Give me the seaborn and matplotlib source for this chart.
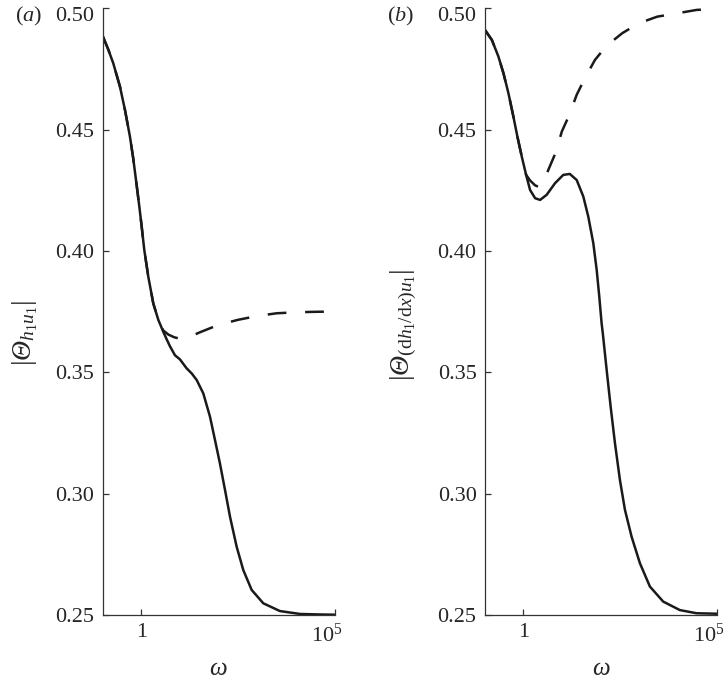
"""Modulo de |Theta| frente a omega: dos paneles (a) y (b)."""

import matplotlib

matplotlib.use("Agg")
import matplotlib.pyplot as plt
import matplotlib.transforms as mtransforms
import pandas as pd
import seaborn as sns

# ---- panel (a): |Theta_{h1 u1}| ----
a_solid_omega = [0.1, 0.141, 0.188, 0.28, 0.377, 0.507, 0.618, 0.757, 0.883, 1.02,
                 1.19, 1.51, 2.03, 2.74, 3.68, 4.47, 5.48, 7.38, 9.93, 14.8,
                 20.0, 26.9, 39.8, 59.3, 79.8, 107, 145, 195, 290, 430,
                 708, 1413, 3802, 12590, 39810, 100000]
a_solid_val = [0.4886, 0.4828, 0.4773, 0.4677, 0.4581, 0.4471, 0.4380, 0.4270,
               0.4185, 0.4100, 0.4004, 0.3894, 0.3784, 0.3716, 0.3667, 0.3637,
               0.3607, 0.3570, 0.3553, 0.3516, 0.3495, 0.3468, 0.3413, 0.3317,
               0.3221, 0.3125, 0.3015, 0.2905, 0.2781, 0.2685, 0.2603, 0.2548,
               0.2516, 0.2504, 0.2502, 0.2501]

a_dash_omega = [0.1, 0.141, 0.188, 0.28, 0.377, 0.507, 0.618, 0.757, 0.883, 1.02,
                1.19, 1.51, 2.03, 2.74, 3.68, 5.01, 7.08, 10.0, 15.8, 33.1,
                97.7, 316, 1000, 3162, 10000, 31623, 100000]
a_dash_val = [0.4886, 0.4828, 0.4773, 0.4677, 0.4581, 0.4471, 0.4380, 0.4270,
              0.4185, 0.4100, 0.4004, 0.3894, 0.3784, 0.3716, 0.3672, 0.3655,
              0.3644, 0.3638, 0.3643, 0.3665, 0.3695, 0.3716, 0.3732, 0.3743,
              0.3747, 0.3749, 0.3750]

# ---- panel (b): |Theta_{(dh1/dx) u1}| ----
b_solid_omega = [0.1, 0.152, 0.224, 0.303, 0.407, 0.548, 0.695, 0.904, 1.17, 1.48,
                 2.0, 2.69, 3.98, 6.56, 10.7, 15.8, 23.8, 35.3, 47.5, 64.0,
                 78.3, 91.4, 105, 112, 142, 180, 233, 313, 422, 628,
                 1030, 1866, 4121, 11140, 30060, 100000]
b_solid_val = [0.4911, 0.4869, 0.4801, 0.4732, 0.4650, 0.4553, 0.4471, 0.4388,
               0.4313, 0.4251, 0.4217, 0.4210, 0.4231, 0.4279, 0.4313, 0.4317,
               0.4292, 0.4224, 0.4141, 0.4032, 0.3922, 0.3812, 0.3702, 0.3665,
               0.3509, 0.3358, 0.3207, 0.3056, 0.2933, 0.2822, 0.2713, 0.2617,
               0.2555, 0.2520, 0.2507, 0.2505]

b_dash_omega = [0.1, 0.152, 0.224, 0.303, 0.407, 0.548, 0.695, 0.904, 1.17, 1.48,
                2.0, 2.43, 2.82, 3.55, 4.40, 6.97, 9.77, 15.3, 23.8, 38.9,
                70.8, 141, 360, 970, 2884, 9484, 30900, 100000]
b_dash_val = [0.4911, 0.4869, 0.4801, 0.4732, 0.4650, 0.4553, 0.4471, 0.4388,
              0.4313, 0.4290, 0.4270, 0.4264, 0.4266, 0.4295, 0.4334, 0.4409,
              0.4491, 0.4560, 0.4643, 0.4712, 0.4787, 0.4845, 0.4897, 0.4938,
              0.4965, 0.4979, 0.4993, 0.4996]

x_ticks = [1, 100000]
x_tick_labels = ["1", r"$10^5$"]
y_ticks = [0.25, 0.30, 0.35, 0.40, 0.45, 0.50]

sns.set_theme(style="ticks")
plt.rcParams["font.family"] = ["Liberation Serif", "DejaVu Serif"]
plt.rcParams["mathtext.fontset"] = "custom"
plt.rcParams["mathtext.rm"] = "Liberation Serif"
plt.rcParams["mathtext.it"] = "Liberation Serif:italic"
plt.rcParams["mathtext.bf"] = "Liberation Serif:bold"
plt.rcParams["axes.linewidth"] = 0.9
plt.rcParams["xtick.direction"] = "in"
plt.rcParams["ytick.direction"] = "in"

LINE = "#1a1a1a"
FS = 16

fig = plt.figure(figsize=(7.28, 6.81), dpi=100)
ax_a = fig.add_axes([0.141, 0.097, 0.319, 0.891])
ax_b = fig.add_axes([0.666, 0.097, 0.3185, 0.891])

# the capital theta sits outside the math parts so it can be set in italic
panels = [
    (ax_a, a_solid_omega, a_solid_val, a_dash_omega, a_dash_val,
     r"$|$Θ$_{h_1u_1}|$", "a", 0.020, -0.27, 0.465),
    (ax_b, b_solid_omega, b_solid_val, b_dash_omega, b_dash_val,
     r"$|$Θ$_{(\mathrm{d}h_1/\mathrm{d}x)u_1}|$", "b", 0.531, -0.285, 0.478),
]

for ax, so, sv, do, dv, ylabel, tag, tag_x, lab_x, lab_y in panels:
    solid = pd.DataFrame({"omega": so, "theta": sv})
    dash = pd.DataFrame({"omega": do, "theta": dv})
    sns.lineplot(data=dash, x="omega", y="theta", ax=ax, color=LINE,
                 linewidth=1.8, sort=False)
    ax.lines[-1].set_dashes((7.5, 7.5))
    sns.lineplot(data=solid, x="omega", y="theta", ax=ax, color=LINE,
                 linewidth=1.8, sort=False)

    ax.set_xscale("log")
    ax.set_xlim(0.1, 1e5)
    ax.set_ylim(0.25, 0.50)
    ax.set_xticks(x_ticks)
    ax.set_xticklabels(x_tick_labels)
    ax.xaxis.set_minor_locator(matplotlib.ticker.NullLocator())
    ax.set_yticks(y_ticks)
    ax.set_yticklabels([f"{v:.2f}" for v in y_ticks])
    ax.tick_params(axis="both", labelsize=FS, length=4, width=0.9,
                   color="#333333", pad=6)
    sns.despine(ax=ax)
    for sp in ("left", "bottom"):
        ax.spines[sp].set_color("#333333")

    # nudge the 10^5 label left and the top 0.50 label down, as in the original
    shift_x = mtransforms.ScaledTranslation(-8 / 100, 0, fig.dpi_scale_trans)
    ax.get_xticklabels()[-1].set_transform(ax.get_xticklabels()[-1].get_transform() + shift_x)
    shift_y = mtransforms.ScaledTranslation(0, -6 / 100, fig.dpi_scale_trans)
    ax.get_yticklabels()[-1].set_transform(ax.get_yticklabels()[-1].get_transform() + shift_y)

    ax.set_xlabel(r"$\mathit{ω}$", fontsize=FS + 2, labelpad=8)
    ax.set_ylabel(ylabel, fontsize=FS + 4, fontstyle="italic")
    ax.yaxis.set_label_coords(lab_x, lab_y)

    fig.text(tag_x, 0.976, f"(${tag}$)", fontsize=FS, ha="left", va="center")

fig.savefig("out.png", dpi=100)
